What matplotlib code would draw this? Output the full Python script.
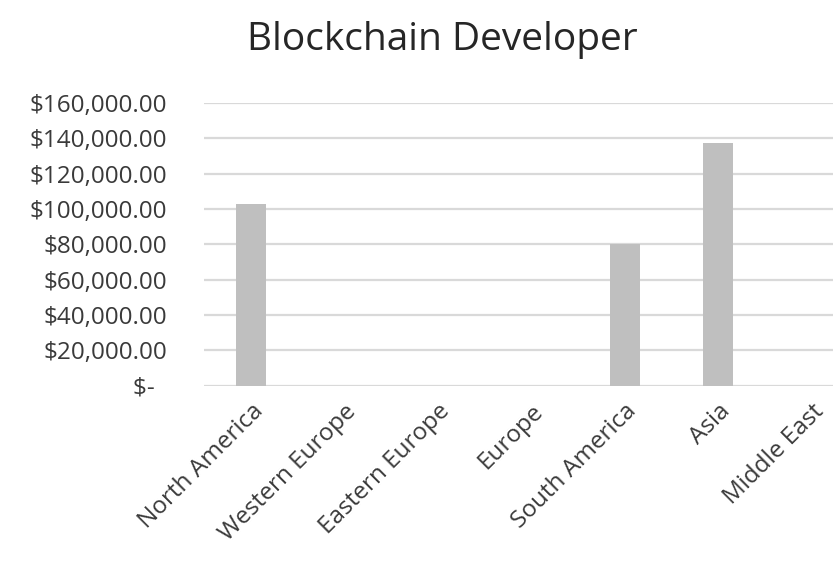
import matplotlib.pyplot as plt
from matplotlib.ticker import FuncFormatter

# Salário médio por região
regioes = ["North America", "Western Europe", "Eastern Europe", "Europe",
           "South America", "Asia", "Middle East"]
salarios = [102500, 0, 0, 0, 80000, 137000, 0]
yticks = [0, 20000, 40000, 60000, 80000, 100000, 120000, 140000, 160000]

plt.rcParams['font.family'] = ['Open Sans', 'DejaVu Sans']
cor_texto = "#3a3a3a"


def formato_moeda(v, pos):
    if v == 0:
        return "$-  "
    return f"${v:,.2f}"


fig = plt.figure(figsize=(8.33, 5.71), dpi=100)
ax = fig.add_axes([0.2453, 0.3245, 0.7547, 0.4955])

x = range(len(regioes))
ax.bar(x, salarios, width=0.32, color="#bfbfbf", zorder=3)

ax.set_ylim(0, 160000)
ax.set_xlim(-0.5, 6.231)
ax.set_yticks(yticks)
ax.yaxis.set_major_formatter(FuncFormatter(formato_moeda))
ax.set_xticks(list(x))
ax.set_xticklabels(regioes, rotation=45, ha="right", rotation_mode="anchor")

ax.grid(axis="y", color="#d9d9d9", linewidth=1.6, zorder=0)
for lado in ["top", "right", "left", "bottom"]:
    ax.spines[lado].set_visible(False)
ax.tick_params(axis="both", length=0, labelsize=17.5, colors=cor_texto)
ax.tick_params(axis="y", pad=27)
ax.tick_params(axis="x", pad=10)

fig.text(0.531, 0.93, "Blockchain Developer", ha="center", va="center",
         fontsize=28, color="#262626")

plt.savefig("out.png", dpi=100)
plt.close()
